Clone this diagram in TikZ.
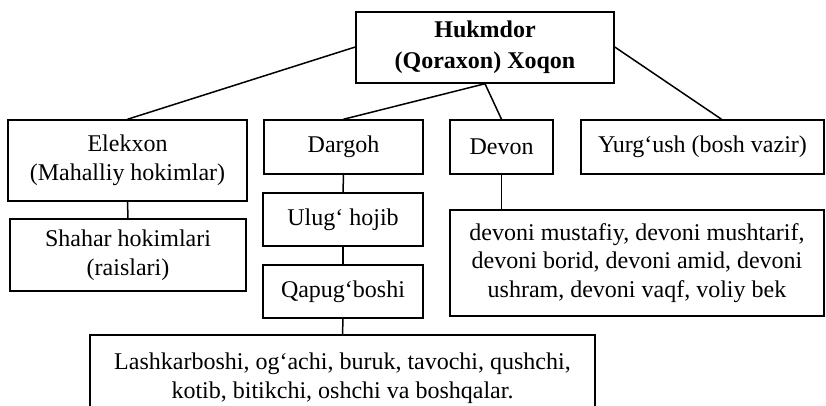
\documentclass[tikz,border=0pt]{standalone}
\usepackage{fontspec}
\setmainfont{Liberation Serif}
\begin{document}
\begin{tikzpicture}[x=1pt,y=-1pt,
  box/.style={draw=black, line width=1.5pt, align=center, inner sep=0pt,
    font=\fontsize{24}{28.5}\selectfont, anchor=center},
  link/.style={draw=black, line width=1.5pt}]
\useasboundingbox (0,0) rectangle (826,405);
\clip (0,0) rectangle (826,405);
\node[box, minimum width=258pt, minimum height=71pt, font=\fontsize{24}{31}\selectfont\bfseries] (huk) at (485,47.5) {Hukmdor\\(Qoraxon) Xoqon};
\node[box, minimum width=239pt, minimum height=81pt] (ele) at (127.5,160.5) {Elekxon\\(Mahalliy hokimlar)};
\node[box, minimum width=159pt, minimum height=54pt] (dar) at (343.5,147) {Dargoh};
\node[box, minimum width=103pt, minimum height=54pt] (dev) at (501.5,147) {Devon};
\node[box, minimum width=243pt, minimum height=54pt] (yur) at (702.5,147) {Yurg‘ush (bosh vazir)};
\node[box, minimum width=160pt, minimum height=53pt] (ulu) at (343,219.5) {Ulug‘ hojib};
\node[box, minimum width=160pt, minimum height=53pt] (qap) at (343,291.5) {Qapug‘boshi};
\node[box, minimum width=236pt, minimum height=72pt] (sha) at (128,255) {Shahar hokimlari\\(raislari)};
\node[box, minimum width=374pt, minimum height=106pt] (dvn) at (637,263) {devoni mustafiy, devoni mushtarif,\\devoni borid, devoni amid, devoni\\ushram, devoni vaqf, voliy bek};
\node[box, minimum width=505pt, minimum height=86pt] (lash) at (342.5,378) {Lashkarboshi, og‘achi, buruk, tavochi, qushchi,\\kotib, bitikchi, oshchi va boshqalar.};
\draw[link] ([yshift=0.5pt]huk.west) -- (ele.north);
\draw[link] (huk.south) -- (dar.north);
\draw[link] (huk.south) -- (dev.north);
\draw[link] ([yshift=0.5pt]huk.east) -- ([xshift=19pt]yur.north);
\draw[link] (ele.south) -- (sha.north);
\draw[link] (dar.south) -- (ulu.north);
\draw[link] (ulu.south) -- (qap.north);
\draw[link] (qap.south) -- (lash.north);
\draw[link] (dev.south) -- (dev.south |- dvn.north);
\end{tikzpicture}
\end{document}
